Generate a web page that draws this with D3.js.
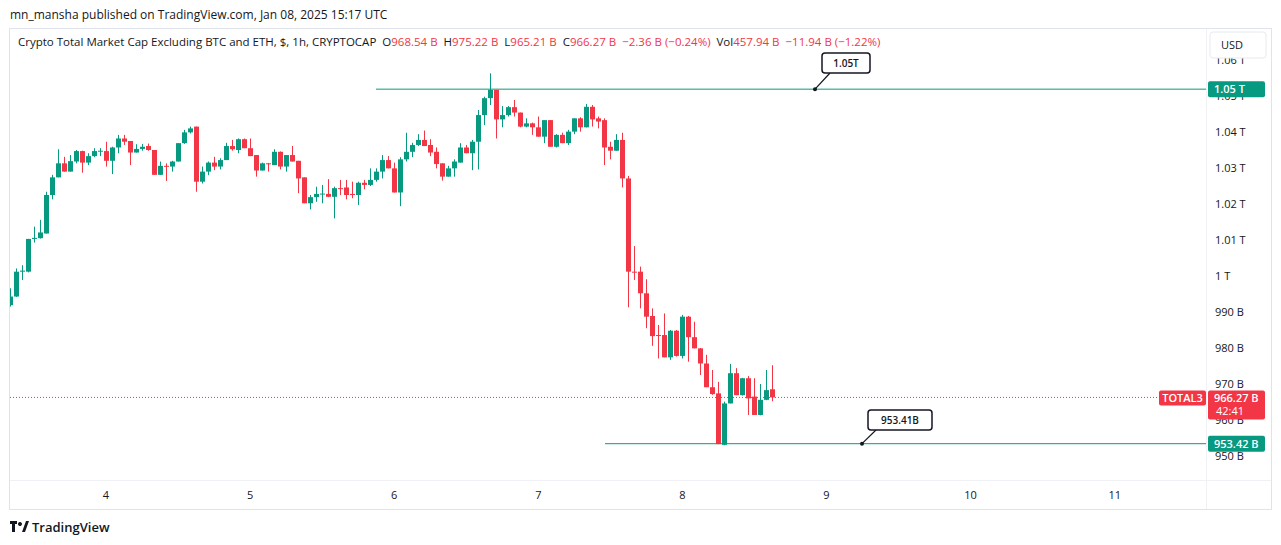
<!DOCTYPE html>
<html><head><meta charset="utf-8">
<script src="https://cdn.jsdelivr.net/npm/d3@7"></script>
<style>body{margin:0;background:#fff;font-family:"Open Sans","Noto Sans",sans-serif}</style>
</head><body><svg id="c" width="1281" height="545"></svg>
<script>
const opens=[991.9,994.3,1001.2,1001.2,1010.3,1010.5,1011.8,1022.5,1027.4,1031.3,1029.0,1031.8,1034.7,1031.5,1033.3,1034.7,1034.7,1032.0,1035.7,1038.2,1037.5,1034.3,1035.3,1036.1,1035.0,1028.1,1030.6,1030.4,1031.8,1036.9,1039.9,1041.5,1026.2,1029.0,1031.5,1030.4,1032.2,1036.1,1035.0,1038.0,1035.5,1033.6,1029.3,1031.3,1030.8,1034.5,1030.4,1033.6,1032.0,1027.4,1020.2,1021.9,1022.8,1022.8,1022.0,1024.4,1024.6,1022.8,1022.5,1025.9,1025.3,1026.7,1029.0,1032.2,1029.9,1023.2,1032.4,1034.5,1036.4,1037.8,1036.4,1034.5,1031.3,1027.6,1029.9,1031.5,1035.7,1034.1,1037.3,1044.7,1049.4,1051.7,1043.5,1044.7,1046.9,1045.4,1041.5,1042.4,1041.3,1038.7,1043.3,1035.9,1039.2,1036.9,1040.1,1043.8,1041.3,1047.0,1043.8,1043.3,1035.9,1034.8,1037.8,1027.1,1001.2,1001.2,995.2,988.9,983.6,983.6,977.4,984.8,977.8,988.7,983.0,979.9,975.7,969.1,967.4,953.1,964.6,973.0,966.9,971.6,966.5,961.4,965.6,968.54];
const highs=[996.6,1002.1,1003.0,1010.3,1013.7,1015.6,1023.4,1028.1,1035.2,1033.1,1033.6,1035.0,1034.8,1034.1,1035.5,1035.5,1037.3,1035.9,1039.2,1039.2,1037.5,1036.6,1036.7,1036.8,1035.0,1031.8,1031.3,1032.0,1036.9,1040.6,1041.5,1041.5,1030.4,1031.8,1033.1,1032.7,1037.0,1037.8,1038.2,1038.2,1038.2,1033.6,1031.5,1031.4,1035.2,1034.6,1033.6,1036.1,1032.0,1027.4,1022.5,1024.8,1025.3,1026.9,1024.8,1026.7,1026.7,1026.2,1026.2,1026.7,1029.9,1029.9,1033.6,1033.3,1031.5,1033.0,1039.8,1037.0,1039.4,1040.4,1038.0,1035.7,1031.3,1030.6,1032.4,1036.9,1036.4,1037.8,1046.1,1049.8,1056.3,1051.7,1047.2,1047.2,1048.9,1045.4,1043.8,1042.6,1044.3,1043.3,1043.3,1039.4,1039.8,1040.6,1043.8,1044.1,1047.8,1047.5,1044.3,1043.8,1037.3,1039.4,1039.8,1027.8,1008.3,1002.6,999.1,991.0,986.4,989.6,985.0,985.0,989.2,988.9,987.3,980.0,978.1,973.9,970.6,965.1,975.6,974.4,971.7,972.2,971.6,970.0,973.9,975.22];
const lows=[991.5,994.2,998.9,1001.0,1009.3,1010.4,1011.8,1021.3,1027.4,1029.0,1029.0,1031.3,1028.7,1030.8,1033.0,1033.3,1030.4,1028.3,1034.1,1036.4,1030.8,1034.3,1034.8,1034.8,1028.1,1028.1,1026.4,1029.0,1031.8,1036.7,1039.6,1023.4,1025.7,1028.0,1029.4,1029.6,1032.2,1034.8,1034.1,1035.5,1033.3,1027.6,1029.3,1029.0,1030.8,1029.6,1029.0,1031.8,1023.0,1020.2,1018.5,1020.6,1020.2,1021.9,1016.0,1022.5,1021.3,1021.6,1019.7,1024.1,1025.0,1026.2,1027.1,1029.9,1023.2,1019.4,1031.8,1033.0,1036.1,1036.1,1033.3,1029.9,1026.5,1027.6,1027.6,1031.5,1034.1,1029.4,1029.6,1041.9,1047.5,1038.2,1041.3,1044.3,1044.3,1041.3,1041.3,1039.2,1038.7,1036.9,1035.9,1035.7,1036.9,1036.4,1039.4,1040.1,1041.3,1041.5,1041.0,1030.8,1032.4,1034.8,1024.6,991.3,998.9,991.0,985.5,980.6,977.1,977.4,976.7,977.6,977.1,976.2,979.9,972.5,969.1,967.0,953.3,953.0,964.6,966.9,966.8,961.4,961.4,961.3,965.5,965.21];
const closes=[994.3,1001.2,1001.5,1010.3,1010.6,1012.1,1022.5,1027.4,1031.3,1029.0,1031.9,1034.7,1031.5,1033.3,1034.7,1034.8,1032.0,1035.7,1038.2,1037.3,1034.3,1035.3,1035.9,1035.0,1028.1,1030.6,1030.5,1031.8,1036.9,1039.9,1041.0,1026.2,1029.0,1031.5,1030.4,1032.2,1036.1,1035.2,1038.0,1035.5,1033.3,1029.3,1031.3,1031.2,1034.5,1030.4,1033.6,1031.8,1027.1,1020.2,1021.9,1022.8,1022.9,1022.0,1024.4,1024.3,1022.5,1022.5,1025.9,1025.3,1026.7,1029.0,1032.2,1029.9,1023.2,1032.4,1034.5,1036.4,1037.8,1036.1,1034.3,1031.1,1027.6,1029.9,1031.8,1035.7,1034.1,1037.3,1044.7,1049.4,1051.7,1043.5,1044.7,1046.9,1045.4,1041.5,1042.4,1041.3,1038.7,1043.3,1035.9,1039.2,1036.9,1040.1,1043.8,1041.3,1047.0,1043.5,1042.9,1035.7,1034.8,1037.8,1027.1,1001.2,1001.1,995.2,988.7,983.3,983.5,977.4,984.8,977.8,988.7,983.0,979.9,975.7,969.1,967.2,953.3,964.6,973.0,966.9,971.6,966.0,961.4,965.6,968.3,966.27];
const startTime=new Date(Date.UTC(2025,0,3,8));
const dayTicks=[4,5,6,7,8,9,10,11];
const priceTicks=[950,960,970,980,990,1000,1010,1020,1030,1040,1050,1060];
const lastPrice=966.27, topLevel=1051.9, lowLevel=953.42;

const G="#089981",R="#f23645",T="#131722";
const svg=d3.select("#c");
const x=d3.scaleUtc().domain([new Date(Date.UTC(2025,0,4)),new Date(Date.UTC(2025,0,5))]).range([106,250.1]);
const y=d3.scaleLinear().domain([1040,1030]).range([132,168]);
const fmt=v=>v>=1000?(d3.format("~g")(v/1000))+" T":v+" B";
const data=opens.map((o,i)=>({t:new Date(+startTime+i*3600e3),o,h:highs[i],l:lows[i],c:closes[i]}));

svg.append("text").attr("x",10).attr("y",19).attr("font-size",12).attr("fill",T).text("mn_mansha published on TradingView.com, Jan 08, 2025 15:17 UTC");
svg.append("rect").attr("x",9.5).attr("y",28.5).attr("width",1262).attr("height",481).attr("fill","none").attr("stroke","#e0e3eb");
svg.append("line").attr("x1",1206.5).attr("x2",1206.5).attr("y1",29).attr("y2",509).attr("stroke","#f0f1f4");
svg.append("line").attr("x1",10).attr("x2",1271).attr("y1",480.5).attr("y2",480.5).attr("stroke","#f0f1f4");

const plot=svg.append("g");
plot.append("clipPath").attr("id","cp").append("rect").attr("x",10).attr("y",29).attr("width",1196).attr("height",451);
const pg=plot.append("g").attr("clip-path","url(#cp)");
data.forEach(d=>{
  const col=d.c>=d.o?G:R, cx=Math.round(x(d.t))+0.5;
  pg.append("line").attr("x1",cx).attr("x2",cx).attr("y1",y(d.h)).attr("y2",y(d.l)).attr("stroke",col);
  const t=y(Math.max(d.o,d.c)),b=y(Math.min(d.o,d.c));
  pg.append("rect").attr("x",cx-2.5).attr("width",5).attr("y",t).attr("height",Math.max(1,b-t)).attr("fill",col);
});
pg.append("line").attr("x1",376).attr("x2",1206).attr("y1",y(topLevel)).attr("y2",y(topLevel)).attr("stroke",G);
pg.append("line").attr("x1",605).attr("x2",1206).attr("y1",y(lowLevel)).attr("y2",y(lowLevel)).attr("stroke",G);
pg.append("line").attr("x1",10).attr("x2",1206).attr("y1",y(lastPrice)).attr("y2",y(lastPrice)).attr("stroke",R).attr("stroke-dasharray","1,2");
function callout(px,py,bx,by,w,txt){
  svg.append("line").attr("x1",px).attr("y1",py).attr("x2",bx+8).attr("y2",by+20).attr("stroke",T).attr("stroke-width",1.2);
  svg.append("circle").attr("cx",px).attr("cy",py).attr("r",2).attr("fill",T);
  svg.append("rect").attr("x",bx).attr("y",by).attr("width",w).attr("height",20).attr("rx",3).attr("fill","#fff").attr("stroke",T).attr("stroke-width",1.5);
  svg.append("text").attr("x",bx+w/2).attr("y",by+14).attr("text-anchor","middle").attr("font-size",10).attr("font-weight",600).attr("fill",T).text(txt);
}
callout(815,y(topLevel),822,53,48,"1.05T");
callout(862,y(lowLevel),868,410,64,"953.41B");

const leg=svg.append("text").attr("x",18).attr("y",46).attr("font-size",11.5).attr("fill",T).attr("xml:space","preserve");
leg.append("tspan").text("Crypto Total Market Cap Excluding BTC and ETH, $, 1h, CRYPTOCAP  ");
[["O","968.54 B"],["H","975.22 B"],["L","965.21 B"],["C","966.27 B"]].forEach(([k,v])=>{leg.append("tspan").text(k);leg.append("tspan").attr("fill",R).text(v+"  ");});
leg.append("tspan").attr("fill",R).text("−2.36 B (−0.24%)  ");
leg.append("tspan").text("Vol");leg.append("tspan").attr("fill",R).text("457.94 B  −11.94 B (−1.22%)");

const ya=svg.append("g");
priceTicks.forEach(v=>{ya.append("text").attr("x",1215).attr("y",y(v)+4).attr("font-size",11).attr("fill",T).text(fmt(v));});
svg.append("rect").attr("x",1210).attr("y",32).attr("width",56).attr("height",26).attr("rx",3).attr("fill","#fff").attr("stroke","#e8e9ee");
svg.append("text").attr("x",1221).attr("y",49).attr("font-size",11).attr("fill",T).text("USD");
function plabel(v,col,txt){const yy=y(v);svg.append("rect").attr("x",1208).attr("y",yy-8).attr("width",57).attr("height",16).attr("rx",2).attr("fill",col);
svg.append("text").attr("x",1214).attr("y",yy+4).attr("font-size",11).attr("font-weight",600).attr("fill","#fff").text(txt);}
plabel(topLevel,G,"1.05 T");
plabel(lowLevel,G,"953.42 B");
const ly=y(lastPrice);
svg.append("rect").attr("x",1208).attr("y",ly-7).attr("width",57).attr("height",29).attr("rx",2).attr("fill",R);
svg.append("text").attr("x",1214).attr("y",ly+5).attr("font-size",11).attr("font-weight",600).attr("fill","#fff").text("966.27 B");
svg.append("text").attr("x",1216).attr("y",ly+18).attr("font-size",11).attr("fill","#fff").text("42:41");
svg.append("rect").attr("x",1159).attr("y",ly-7).attr("width",47).attr("height",15).attr("rx",2).attr("fill",R);
svg.append("text").attr("x",1182.5).attr("y",ly+5).attr("text-anchor","middle").attr("font-size",11).attr("font-weight",600).attr("fill","#fff").text("TOTAL3");

dayTicks.forEach(dn=>{svg.append("text").attr("x",x(new Date(Date.UTC(2025,0,dn)))).attr("y",499).attr("text-anchor","middle").attr("font-size",11).attr("fill",T).text(dn);});

const lg=svg.append("g").attr("transform","translate(10,521)");
lg.append("path").attr("d","M0 0h7v3h-2v8h-3v-8h-2z M9 11l3-8h0a2 2 0 1 0 0 .1 M12 11l4-11h3l-4 11z").attr("fill",T);
svg.append("text").attr("x",32).attr("y",532).attr("font-size",13).attr("font-weight",600).attr("fill",T).text("TradingView");
</script></body></html>
